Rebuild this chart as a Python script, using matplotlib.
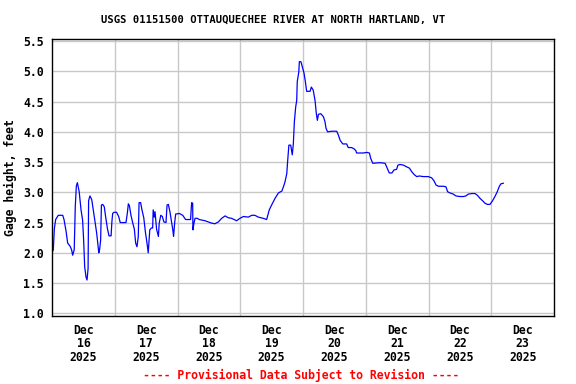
import matplotlib
matplotlib.use("Agg")
import matplotlib.pyplot as plt
import matplotlib.dates as mdates
import numpy as np
from datetime import datetime, timedelta

# hours since 2025-12-16 00:00
hours = [0.0, 0.5, 0.9, 1.4, 2.4, 4.1, 4.6, 5.4, 6.0, 6.9, 7.5, 7.9, 8.5, 8.9, 9.3, 9.7,
         10.4, 11.1, 11.7, 12.1, 12.5, 13.0, 13.4, 13.8, 14.0, 14.5, 15.2, 15.8, 16.4,
         17.1, 17.9, 18.2, 18.6, 18.9, 19.4, 20.0, 20.5, 21.2, 21.8, 22.6, 22.9, 23.2,
         23.7, 24.7, 25.5, 26.1, 28.3, 28.8, 29.2, 29.6, 30.2, 30.9, 31.5, 32.0, 32.5,
         33.0, 33.3, 33.9, 34.4, 35.1, 35.7, 36.4, 36.8, 37.4, 38.0, 38.5, 38.7, 39.1,
         39.4, 40.0, 40.7, 41.0, 41.6, 42.2, 42.8, 43.6, 44.0, 44.5, 45.1, 45.6, 46.2,
         46.5, 46.9, 47.3, 48.7, 50.0, 51.1, 53.0, 53.4, 53.8, 53.9, 54.3, 54.7, 55.6,
         56.3, 58.5, 59.8, 61.1, 62.3, 63.6, 64.9, 66.2, 67.4, 68.7, 70.6, 71.9, 73.2,
         75.1, 76.4, 77.6, 78.9, 80.8, 82.1, 83.1, 84.0, 85.3, 86.6, 87.9, 88.5, 89.1,
         89.8, 90.1, 90.6, 91.3, 91.9, 92.3, 92.7, 93.2, 93.6, 93.8, 94.4, 94.6, 95.2,
         95.7, 96.4, 96.9, 97.4, 98.7, 99.2, 99.9, 100.6, 101.1, 101.5, 101.9, 102.8,
         103.8, 104.4, 104.8, 105.4, 107.0, 108.9, 109.5, 110.2, 111.2, 112.7, 113.3,
         114.6, 115.5, 116.2, 116.5, 119.1, 120.4, 121.4, 121.9, 122.7, 125.5, 127.4,
         128.2, 129.0, 130.0, 130.8, 131.8, 132.3, 133.1, 134.4, 135.7, 136.7, 137.6,
         138.6, 139.5, 140.5, 142.0, 143.9, 145.2, 146.1, 146.9, 147.8, 149.7, 150.7,
         151.3, 152.2, 153.5, 154.5, 156.0, 157.3, 158.3, 159.2, 160.5, 161.8, 162.7,
         163.7, 164.7, 165.6, 166.5, 167.5, 168.5, 169.4, 170.3, 171.1, 171.7, 172.6]
gage_ft = [2.00, 2.05, 2.40, 2.55, 2.62, 2.62, 2.55, 2.35, 2.16, 2.11, 2.05, 1.96, 2.05,
           2.76, 3.10, 3.16, 3.01, 2.71, 2.54, 2.21, 1.77, 1.60, 1.55, 1.74, 2.86, 2.94,
           2.88, 2.71, 2.53, 2.32, 2.00, 2.05, 2.21, 2.79, 2.80, 2.76, 2.60, 2.40, 2.28,
           2.28, 2.51, 2.65, 2.67, 2.67, 2.60, 2.50, 2.50, 2.65, 2.81, 2.78, 2.62, 2.49,
           2.39, 2.16, 2.10, 2.27, 2.83, 2.83, 2.71, 2.58, 2.35, 2.14, 2.00, 2.38, 2.41,
           2.41, 2.71, 2.59, 2.68, 2.39, 2.27, 2.49, 2.62, 2.60, 2.51, 2.50, 2.79, 2.80,
           2.68, 2.54, 2.38, 2.27, 2.49, 2.64, 2.65, 2.62, 2.55, 2.55, 2.83, 2.82,
           2.38, 2.49, 2.57, 2.57, 2.55, 2.53, 2.51, 2.49, 2.48, 2.51, 2.57, 2.61, 2.58,
           2.57, 2.53, 2.57, 2.60, 2.59, 2.62, 2.62, 2.59, 2.57, 2.55, 2.71, 2.79, 2.90,
           2.99, 3.02, 3.09, 3.17, 3.31, 3.50, 3.78, 3.78, 3.62, 3.80, 4.17, 4.41, 4.52,
           4.83, 4.99, 5.16, 5.16, 5.08, 4.97, 4.83, 4.67, 4.67, 4.74, 4.69, 4.52, 4.30,
           4.19, 4.29, 4.30, 4.25, 4.17, 4.06, 4.00, 4.01, 4.01, 3.95, 3.86, 3.80, 3.80,
           3.74, 3.74, 3.72, 3.69, 3.65, 3.65, 3.66, 3.65, 3.56, 3.48, 3.49, 3.48, 3.40,
           3.32, 3.32, 3.37, 3.38, 3.45, 3.46, 3.45, 3.42, 3.40, 3.34, 3.29, 3.26, 3.27,
           3.26, 3.26, 3.24, 3.19, 3.12, 3.10, 3.10, 3.09, 3.01, 2.99, 2.97, 2.94, 2.93,
           2.93, 2.94, 2.97, 2.98, 2.98, 2.95, 2.90, 2.86, 2.82, 2.80, 2.80, 2.86, 2.93,
           3.01, 3.10, 3.14, 3.15]

y_ticks = [1.0, 1.5, 2.0, 2.5, 3.0, 3.5, 4.0, 4.5, 5.0, 5.5]
day_labels = ["Dec\n16\n2025", "Dec\n17\n2025", "Dec\n18\n2025", "Dec\n19\n2025",
              "Dec\n20\n2025", "Dec\n21\n2025", "Dec\n22\n2025", "Dec\n23\n2025"]
title = "USGS 01151500 OTTAUQUECHEE RIVER AT NORTH HARTLAND, VT"

base = datetime(2025, 12, 16)
times = [base + timedelta(hours=h) for h in hours]

mono = "DejaVu Sans Mono"
fig = plt.figure(figsize=(5.76, 3.84), dpi=100)
ax = fig.add_axes([52/576, 1-315.7/384, 502/576, (315.7-39.3)/384])

ax.plot(times, gage_ft, color="#0000ff", lw=0.9)

ax.set_xlim(base, base + timedelta(days=8))
ax.set_ylim(0.96, 5.53)

midnights = [base + timedelta(days=d) for d in range(1, 8)]
noons = [base + timedelta(days=d, hours=12) for d in range(8)]
ax.set_xticks(mdates.date2num(midnights))
ax.set_xticklabels([])
ax.set_xticks(mdates.date2num(noons), minor=True)
ax.set_xticklabels(day_labels, minor=True, fontfamily=mono, fontweight="bold",
                   fontsize=8.3, linespacing=1.03)
ax.tick_params(axis="x", which="both", length=0, pad=6)

ax.set_yticks(y_ticks)
ax.set_yticklabels([f"{v:.1f}" for v in y_ticks], fontfamily=mono,
                   fontweight="bold", fontsize=8.3)
ax.tick_params(axis="y", length=0, pad=6)

ax.grid(True, which="major", color="#c8c8c8", lw=1.0)
ax.set_axisbelow(True)
for s in ax.spines.values():
    s.set_color("black")
    s.set_linewidth(1.0)

ax.set_ylabel("Gage height, feet", fontfamily=mono, fontweight="bold", fontsize=8.3,
              labelpad=4)
fig.text(273/576, 1-20/384, title, ha="center", va="center", fontfamily=mono,
         fontweight="bold", fontsize=7.6)
fig.text(301.5/576, 1-375/384, "---- Provisional Data Subject to Revision ----",
         ha="center", va="center", fontfamily=mono, fontweight="bold", fontsize=8.3,
         color="red")

fig.savefig("out.png", dpi=100)
